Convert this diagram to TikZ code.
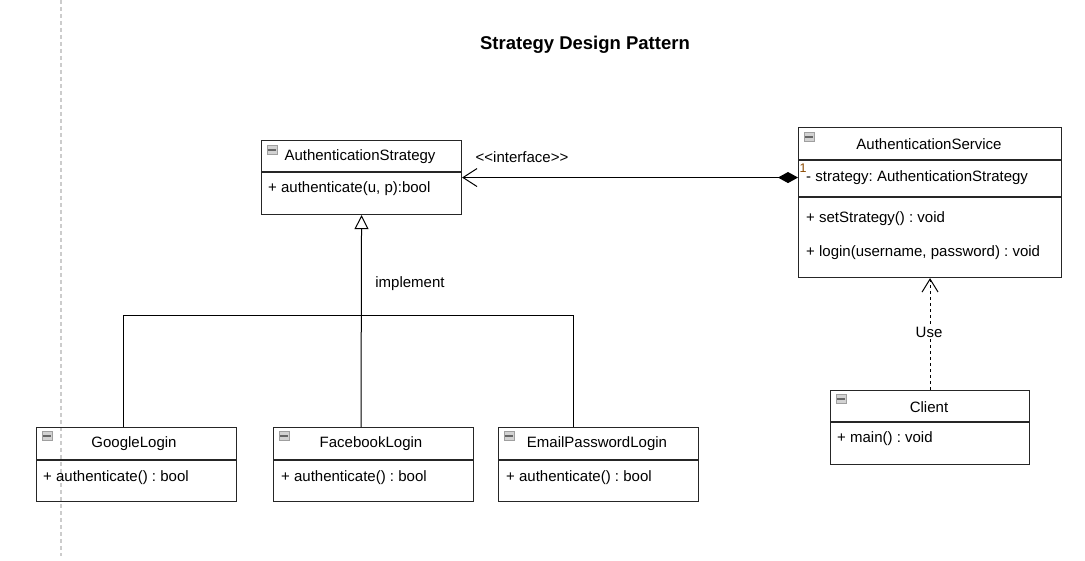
\documentclass[tikz,border=0pt]{standalone}
\usepackage{fontspec}
\setmainfont{Liberation Sans}
\usetikzlibrary{arrows.meta,calc}
\definecolor{cnum}{HTML}{8B4A00}
\frenchspacing
\tikzset{
  cls/.style={draw=black!85, line width=1.1pt, anchor=north west, inner sep=0pt},
  divline/.style={draw=black!85, line width=1.1pt},
  ttl/.style={font=\fontsize{15}{18}\selectfont, inner sep=0pt},
  mem/.style={font=\fontsize{15}{18}\selectfont, anchor=west, inner sep=0pt},
  conn/.style={line width=1pt, black},
  minusicon/.pic={
    \draw[fill=gray!35, draw=gray!75, line width=0.6pt] (-5,-4.5) rectangle (5,4.5);
    \draw[black!60, line width=1.8pt] (-4,0) -- (4,0);
  }
}
\begin{document}
\begin{tikzpicture}[x=1pt,y=-1pt]
\frenchspacing
\useasboundingbox (0,0) rectangle (1085,561);
\fill[white] (0,0) rectangle (1085,561);

% left guide line
\draw[gray!40, dash pattern=on 4pt off 3pt, line width=1.2pt] (61,0) -- (61,556);

% title
\node[font=\bfseries\fontsize{18.5}{21}\selectfont, inner sep=0pt] (title) at (585,45) {Strategy Design Pattern};

% AuthenticationStrategy
\node[cls, minimum width=200pt, minimum height=74pt] (strat) at (261,140) {};
\draw[divline] ($(strat.north west)+(0,32)$) -- ($(strat.north east)+(0,32)$);
\pic at (272,150) {minusicon};
\node[ttl] (stratT) at (360,157) {AuthenticationStrategy};
\node[mem] (stratM) at (268,189) {+ authenticate(u, p):bool};

% AuthenticationService
\node[cls, minimum width=263pt, minimum height=150pt] (svc) at (798,127) {};
\draw[divline] ($(svc.north west)+(0,33)$) -- ($(svc.north east)+(0,33)$);
\draw[divline] ($(svc.north west)+(0,70)$) -- ($(svc.north east)+(0,70)$);
\pic at (809,137) {minusicon};
\node[ttl] (svcT) at (929,144) {AuthenticationService};
\node[font=\fontsize{12.5}{14}\selectfont, text=cnum, inner sep=0pt] (mult) at (803,168) {1};
\node[mem] (svcA) at (806,178) {- strategy: AuthenticationStrategy};
\node[mem] (svcM1) at (806,219) {+ setStrategy() : void};
\node[mem] (svcM2) at (806,253) {+ login(username, password) : void};

% Client
\node[cls, minimum width=199pt, minimum height=74pt] (client) at (830,390) {};
\draw[divline] ($(client.north west)+(0,32)$) -- ($(client.north east)+(0,32)$);
\pic at (841,399) {minusicon};
\node[ttl] (clientT) at (929,407) {Client};
\node[mem] (clientM) at (837,439) {+ main() : void};

% GoogleLogin
\node[cls, minimum width=200pt, minimum height=74pt] (google) at (36,427) {};
\draw[divline] ($(google.north west)+(0,33)$) -- ($(google.north east)+(0,33)$);
\pic at (47,436) {minusicon};
\node[ttl] (googleT) at (134,444) {GoogleLogin};
\node[mem] (googleM) at (43,478) {+ authenticate() : bool};

% FacebookLogin
\node[cls, minimum width=200pt, minimum height=74pt] (fb) at (273,427) {};
\draw[divline] ($(fb.north west)+(0,33)$) -- ($(fb.north east)+(0,33)$);
\pic at (284,436) {minusicon};
\node[ttl] (fbT) at (371,444) {FacebookLogin};
\node[mem] (fbM) at (281,478) {+ authenticate() : bool};

% EmailPasswordLogin
\node[cls, minimum width=200pt, minimum height=74pt] (email) at (498,427) {};
\draw[divline] ($(email.north west)+(0,33)$) -- ($(email.north east)+(0,33)$);
\pic at (509,436) {minusicon};
\node[ttl] (emailT) at (597,444) {EmailPasswordLogin};
\node[mem] (emailM) at (506,478) {+ authenticate() : bool};

% inheritance
\coordinate (junc) at (361,315.5);
\draw[conn, -{Triangle[open, length=14pt, width=14pt, line width=1pt]}] ($(fb.north west)+(88,0)$) -- (strat.south);
\draw[conn] ($(google.north west)+(87,0)$) |- (junc) -| ($(email.north west)+(75,0)$);
\node[ttl] (impl) at (410,284) {implement};

% composition
\draw[conn, {Straight Barb[length=14pt, width=18pt, line width=1pt]}-{Diamond[length=20pt, width=11pt]}] (strat.east) -- (strat.east -| svc.west);
\node[ttl] (iface) at (522,157) {<{}<interface>{}>};

% use dependency
\draw[conn, dash pattern=on 3pt off 3pt, -{Straight Barb[length=13pt, width=16pt, line width=1pt]}] (client.north) -- (client.north |- svc.south);
\node[ttl, fill=white, inner sep=1pt] (use) at (929,332) {Use};
\end{tikzpicture}
\end{document}
